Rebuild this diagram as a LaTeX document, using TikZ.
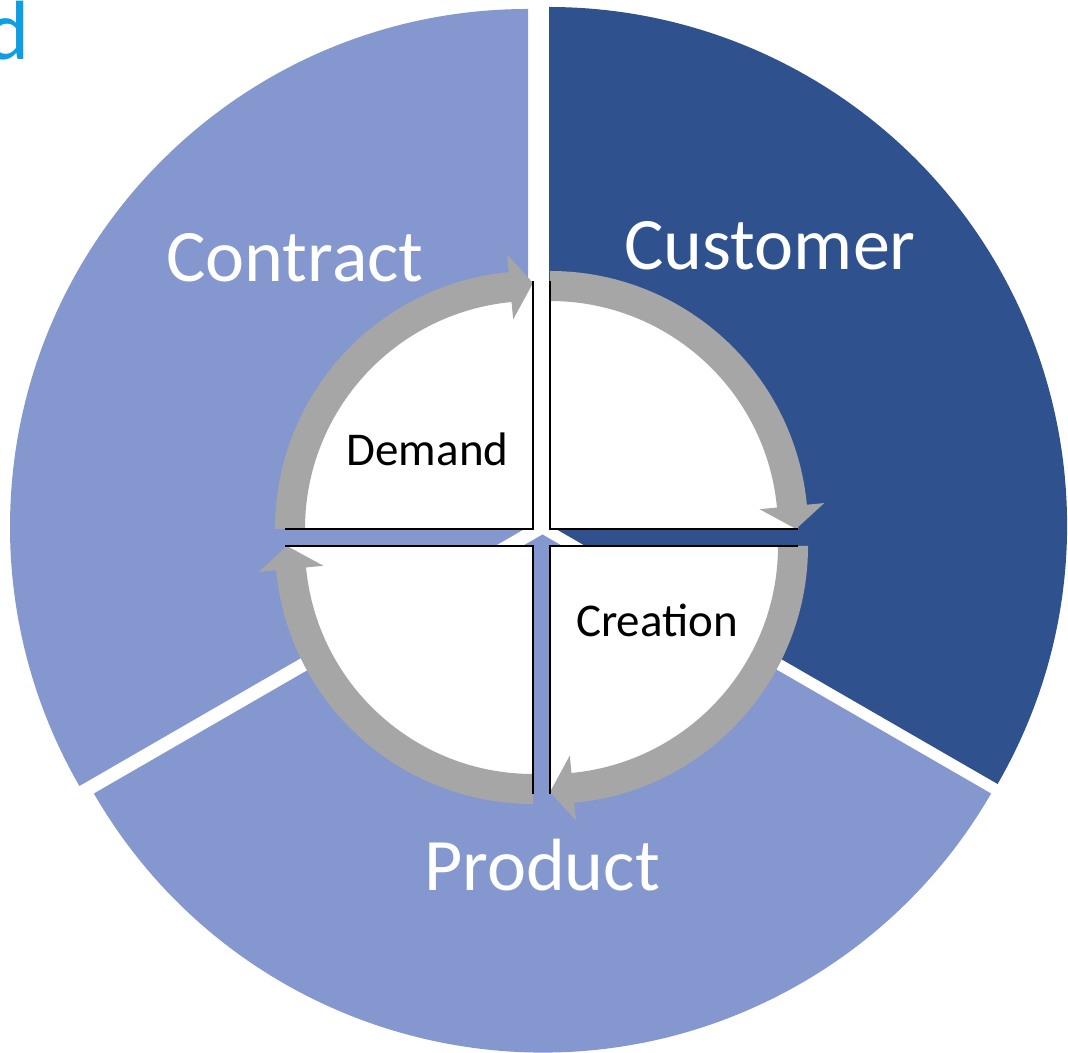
\documentclass[tikz,border=0pt]{standalone}
\usepackage{fontspec}
\setmainfont{Carlito}
\usetikzlibrary{calc}
\definecolor{lightsec}{RGB}{132,152,207}
\definecolor{darksec}{RGB}{47,82,143}
\definecolor{bandgray}{RGB}{166,166,166}
\definecolor{titleblue}{RGB}{14,158,225}
\tikzset{
  biglabel/.style={anchor=base, text=white, font=\fontsize{74}{80}\selectfont, inner sep=0pt},
  smalllabel/.style={anchor=base, text=black, font=\fontsize{47}{52}\selectfont, inner sep=0pt},
  edgeline/.style={draw=black, line width=2.2pt},
  quarter/.style={fill=white}
}
\newcommand{\qarrow}[2]{%
  \pgfmathsetmacro\qe{#2-90}\pgfmathsetmacro\qb{#2-84.6}%
  \fill[bandgray] ($(#1)+(#2:228)$) arc[start angle=#2,end angle=\qb,radius=228]
    -- ($(#1)+(\qb:210.5)$) -- ($(#1)+(\qe:246)$) -- ($(#1)+(\qb:275.5)$)
    -- ($(#1)+(\qb:258)$) arc[start angle=\qb,end angle=#2,radius=258] -- cycle;}
\newcommand{\qedges}[2]{%
  \pgfmathsetmacro\qe{#2-90}%
  \draw[edgeline] ($(#1)+(#2:248)$) -- (#1) -- ($(#1)+(\qe:248)$);}
\newcommand{\qdisk}[2]{%
  \pgfmathsetmacro\qe{#2-90}%
  \fill[quarter] (#1) -- ($(#1)+(#2:248)$) arc[start angle=#2,end angle=\qe,radius=248] -- cycle;}
\begin{document}
\begin{tikzpicture}[x=1pt,y=1pt]
\useasboundingbox (0,0) rectangle (1068,1052);
% partial title letter
\node[anchor=base west, inner sep=0pt, text=titleblue, font=\fontsize{84}{90}\selectfont] (title) at (-15,992) {d};
% sector centres
\coordinate (cC) at (528,525);
\coordinate (cU) at (549,527);
\coordinate (cP) at (542.5,517.5);
% sectors
\fill[lightsec] (cC) -- ++(90:518) arc[start angle=90,end angle=210,radius=518] -- cycle;
\fill[darksec] (cU) -- ++(-30:518) arc[start angle=-30,end angle=90,radius=518] -- cycle;
\fill[lightsec] (cP) -- ++(210:518) arc[start angle=210,end angle=330,radius=518] -- cycle;
% inner quarter vertices
\coordinate (vTL) at (533,523);
\coordinate (vTR) at (550,523);
\coordinate (vBR) at (550,506);
\coordinate (vBL) at (533,506);
\qdisk{vTL}{180}
\qdisk{vTR}{90}
\qdisk{vBR}{0}
\qdisk{vBL}{-90}
\qarrow{vTL}{180}
\qarrow{vTR}{90}
\qarrow{vBR}{0}
\qarrow{vBL}{-90}
\qedges{vTL}{180}
\qedges{vTR}{90}
\qedges{vBR}{0}
\qedges{vBL}{-90}
% labels
\node[biglabel] (contract) at (295,770) {Contract};
\node[biglabel] (customer) at (770,782) {Customer};
\node[biglabel] (product) at (542,161) {Product};
\node[smalllabel] (demand) at (427.5,586) {Demand};
\node[smalllabel] (creation) at (657,415) {Creation};
\end{tikzpicture}
\end{document}
